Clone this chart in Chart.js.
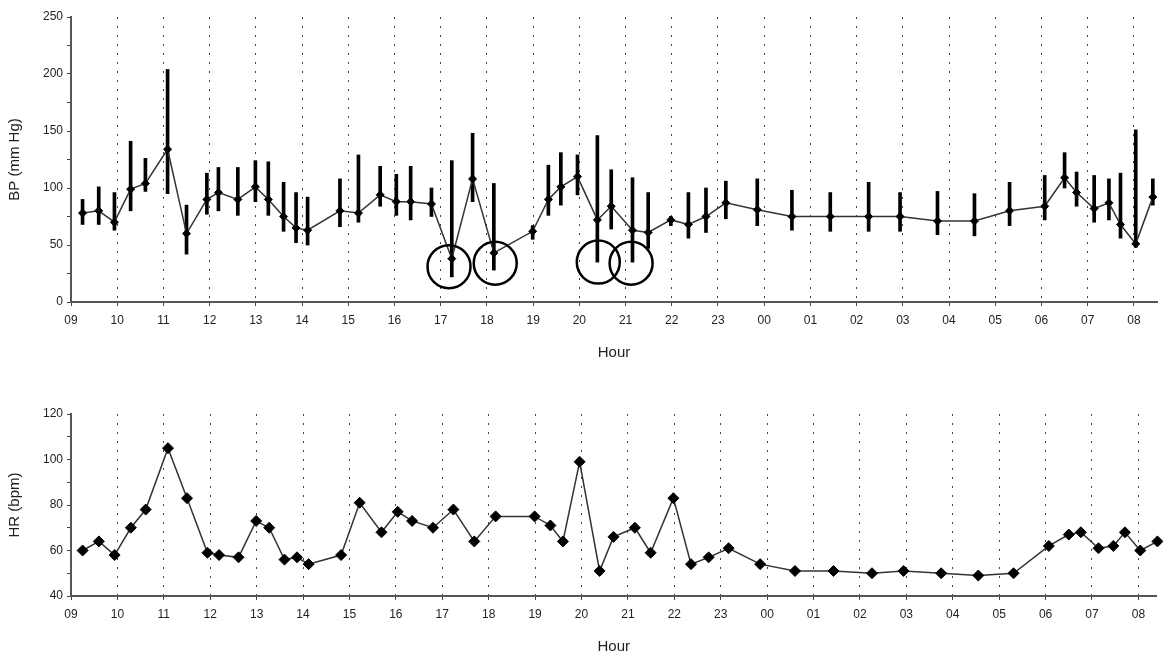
<!DOCTYPE html>
<html lang="en">
<head>
    <meta charset="UTF-8">
    <title>BP and HR</title>
    <script src="https://cdn.jsdelivr.net/npm/chart.js"></script>
    <style>
        html, body {
            margin: 0;
            padding: 0;
            background: #fff;
            overflow: hidden;
        }
        .panel {
            position: absolute;
            left: 0;
        }
        #bpPanel { top: 0; }
        #hrPanel { top: 380px; }
    </style>
</head>
<body>
    <div class="panel" id="bpPanel"><canvas id="bpChart" width="1163" height="360"></canvas></div>
    <div class="panel" id="hrPanel"><canvas id="hrChart" width="1163" height="274"></canvas></div>

    <script>
        // hours after 09:00 for each reading
        const hours = [0.25, 0.60, 0.94, 1.29, 1.61, 2.09, 2.50, 2.94, 3.19, 3.61, 3.99, 4.27, 4.60, 4.87, 5.12, 5.82,
            6.22, 6.69, 7.04, 7.35, 7.80, 8.24, 8.69, 9.15, 9.99, 10.33, 10.60, 10.96, 11.39, 11.69, 12.15, 12.49,
            12.98, 13.36, 13.74, 14.17, 14.85, 15.60, 16.43, 17.26, 17.94, 18.75, 19.55, 20.31, 21.07, 21.50,
            21.76, 22.14, 22.46, 22.71, 23.04, 23.41];
        const bpMean = [78, 80, 70, 99, 104, 134, 60, 90, 96, 90, 101, 90, 75, 65, 63, 80,
            78, 94, 88, 88, 86, 38, 108, 43, 62, 90, 101, 110, 72, 84, 63, 61,
            72, 68, 75, 87, 81, 75, 75, 75, 75, 71, 71, 80, 84, 109,
            96, 82, 87, 68, 51, 92];
        const bpHigh = [90, 101, 96, 141, 126, 204, 85, 113, 118, 118, 124, 123, 105, 96, 92, 108,
            129, 119, 112, 119, 100, 124, 148, 104, 67, 120, 131, 129, 146, 116, 109, 96,
            75, 96, 100, 106, 108, 98, 96, 105, 96, 97, 95, 105, 111, 131,
            114, 111, 108, 113, 151, 108];
        const bpLow = [68, 68, 63, 80, 97, 95, 42, 77, 80, 76, 88, 76, 62, 52, 50, 66,
            70, 84, 76, 72, 75, 22, 88, 28, 55, 76, 85, 94, 35, 64, 35, 47,
            67, 56, 61, 73, 67, 63, 62, 62, 62, 59, 58, 67, 72, 100,
            84, 70, 72, 56, 48, 85];
        const hrValues = [60, 64, 58, 70, 78, 105, 83, 59, 58, 57, 73, 70, 56, 57, 54, 58,
            81, 68, 77, 73, 70, 78, 64, 75, 75, 71, 64, 99, 51, 66, 70, 59,
            83, 54, 57, 61, 54, 51, 51, 50, 51, 50, 49, 50, 62, 67,
            68, 61, 62, 68, 60, 64];
        // circled readings
        const circleHours = [8.18, 9.18, 11.41, 12.12];
        const circleBP = [31, 34, 35, 34];

        Chart.defaults.font.family = "'Liberation Sans', Arial, sans-serif";
        Chart.defaults.color = '#222';

        function hourLabel(v) {
            return String((9 + Math.round(v)) % 24).padStart(2, '0');
        }

        function xAxis(max) {
            return {
                type: 'linear',
                min: 0,
                max: max,
                offset: false,
                afterBuildTicks: function(s) {
                    // whole hours only, no tick at the axis end
                    s.ticks = s.ticks.filter(t => Number.isInteger(t.value));
                },
                afterFit: function(s) { s.height = 58; },
                ticks: {
                    stepSize: 1,
                    includeBounds: false,
                    autoSkip: false,
                    maxRotation: 0,
                    padding: 7,
                    font: { size: 12 },
                    callback: hourLabel
                },
                grid: { offset: false, color: '#444', lineWidth: 1, tickColor: '#444', tickLength: 4 },
                border: { color: '#555', width: 2, dash: [2, 7] },
                title: { display: true, text: 'Hour', font: { size: 15, lineHeight: 1 }, padding: 0 }
            };
        }

        function yAxis(min, max, step, labelStep, text) {
            return {
                min: min,
                max: max,
                afterFit: function(s) { s.width = 71; },
                ticks: {
                    stepSize: step,
                    autoSkip: false,
                    padding: 4,
                    font: { size: 12 },
                    callback: function(v) { return v % labelStep === 0 ? v : ''; }
                },
                grid: { drawOnChartArea: false, tickLength: 4, tickColor: '#444' },
                border: { color: '#555', width: 2 },
                title: { display: true, text: text, font: { size: 15, lineHeight: 1 }, padding: { top: 7, bottom: 0 } }
            };
        }

        // rings round the marked readings, placed through the chart scales
        const circlePlugin = {
            id: 'circles',
            afterDatasetsDraw(chart) {
                const { ctx, scales: { x, y } } = chart;
                ctx.save();
                ctx.strokeStyle = '#000';
                ctx.lineWidth = 2.5;
                circleHours.forEach((h, i) => {
                    ctx.beginPath();
                    ctx.arc(x.getPixelForValue(h), y.getPixelForValue(circleBP[i]), 21.5, 0, Math.PI * 2);
                    ctx.stroke();
                });
                ctx.restore();
            }
        };

        // BP chart
        const bpCtx = document.getElementById('bpChart').getContext('2d');
        const bpChart = new Chart(bpCtx, {
            type: 'line',
            data: {
                datasets: [
                    {
                        type: 'line',
                        data: hours.map((h, i) => ({ x: h, y: bpMean[i] })),
                        borderColor: '#333',
                        borderWidth: 1.5,
                        pointStyle: 'rectRot',
                        pointRadius: 4,
                        pointBackgroundColor: '#000',
                        pointBorderColor: '#000',
                        pointBorderWidth: 1,
                        tension: 0,
                        order: 1
                    },
                    {
                        type: 'bar',
                        data: hours.map((h, i) => ({ x: h, y: [bpLow[i], bpHigh[i]] })),
                        backgroundColor: '#000',
                        borderWidth: 0,
                        barThickness: 3,
                        order: 2
                    }
                ]
            },
            options: {
                responsive: false,
                animation: false,
                layout: { padding: { left: 0, right: 6, top: 17, bottom: 0 } },
                plugins: { legend: { display: false }, tooltip: { enabled: false } },
                scales: {
                    x: xAxis(23.5),
                    y: yAxis(0, 250, 25, 50, 'BP (mm Hg)')
                }
            },
            plugins: [circlePlugin]
        });

        // HR chart
        const hrCtx = document.getElementById('hrChart').getContext('2d');
        const hrChart = new Chart(hrCtx, {
            type: 'line',
            data: {
                datasets: [{
                    data: hours.map((h, i) => ({ x: h, y: hrValues[i] })),
                    borderColor: '#333',
                    borderWidth: 1.5,
                    pointStyle: 'rectRot',
                    pointRadius: 5.5,
                    pointBackgroundColor: '#000',
                    pointBorderColor: '#000',
                    pointBorderWidth: 1,
                    tension: 0,
                    clip: 10
                }]
            },
            options: {
                responsive: false,
                animation: false,
                layout: { padding: { left: 0, right: 6, top: 34, bottom: 0 } },
                plugins: { legend: { display: false }, tooltip: { enabled: false } },
                scales: {
                    x: xAxis(23.39),
                    y: yAxis(40, 120, 10, 20, 'HR (bpm)')
                }
            }
        });
    </script>
</body>
</html>
